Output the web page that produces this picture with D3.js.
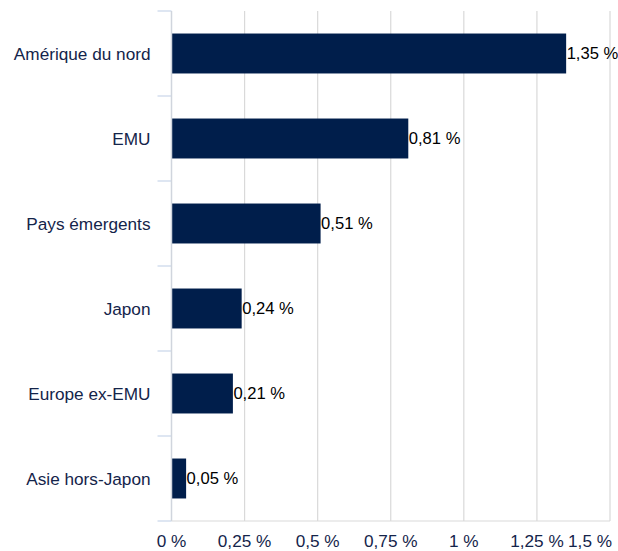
<!DOCTYPE html>
<html>
<head>
<meta charset="utf-8">
<script src="https://cdn.jsdelivr.net/npm/d3@7"></script>
<style>
  html, body { margin: 0; padding: 0; background: #fff; }
  svg { display: block; font-family: "Liberation Sans", Arial, sans-serif; }
</style>
</head>
<body>
<svg id="chart" width="618" height="551"></svg>
<script>
// Contribution by region (percent)
const categories = ["Amérique du nord", "EMU", "Pays émergents", "Japon", "Europe ex-EMU", "Asie hors-Japon"];
const values = [1.35, 0.81, 0.51, 0.24, 0.21, 0.05];
const xTicks = [0, 0.25, 0.5, 0.75, 1, 1.25, 1.5];

const fmt = v => String(v).replace(".", ",") + " %";

const margin = { top: 11, left: 171.5 };
const innerW = 610 - margin.left;
const innerH = 521 - margin.top;
const fontSize = 17.2;
const valueFontSize = 16.6;

const svg = d3.select("#chart");
const g = svg.append("g").attr("transform", `translate(${margin.left},${margin.top})`);

const x = d3.scaleLinear().domain([0, 1.5]).range([0, innerW]);
const y = d3.scaleBand().domain(categories).range([0, innerH]).paddingInner(0.53).paddingOuter(0.265);
const band = d3.scaleBand().domain(categories).range([0, innerH]);

// vertical gridlines
g.selectAll("line.grid").data(xTicks.slice(1)).join("line")
  .attr("class", "grid")
  .attr("x1", d => x(d)).attr("x2", d => x(d))
  .attr("y1", 0).attr("y2", innerH)
  .attr("stroke", "#d9d9d9").attr("stroke-width", 1.2);

// bottom axis line
g.append("line")
  .attr("x1", 0).attr("x2", innerW)
  .attr("y1", innerH).attr("y2", innerH)
  .attr("stroke", "#d9d9d9").attr("stroke-width", 1.2);

// category separators on the left
const seps = categories.map(c => band(c)).concat([innerH]);
g.selectAll("line.sep").data(seps).join("line")
  .attr("class", "sep")
  .attr("x1", -14).attr("x2", 0)
  .attr("y1", d => d).attr("y2", d => d)
  .attr("stroke", "#c9d5ea").attr("stroke-width", 1.2);

// bars
g.selectAll("rect.bar").data(values).join("rect")
  .attr("class", "bar")
  .attr("x", x(0))
  .attr("y", (d, i) => y(categories[i]))
  .attr("width", d => x(d) - x(0))
  .attr("height", y.bandwidth())
  .attr("fill", "#001e4b");

// value axis line at zero
g.append("line")
  .attr("x1", 0).attr("x2", 0)
  .attr("y1", 0).attr("y2", innerH)
  .attr("stroke", "#d0d5dd").attr("stroke-width", 1.5);

// data labels
g.selectAll("text.val").data(values).join("text")
  .attr("class", "val")
  .attr("x", d => x(d) + 0.5)
  .attr("y", (d, i) => y(categories[i]) + y.bandwidth() / 2)
  .attr("dy", "0.35em")
  .attr("font-size", valueFontSize)
  .attr("fill", "#000")
  .text(d => fmt(d));

// category labels
g.selectAll("text.cat").data(categories).join("text")
  .attr("class", "cat")
  .attr("x", -21)
  .attr("y", d => y(d) + y.bandwidth() / 2)
  .attr("dy", "0.35em")
  .attr("text-anchor", "end")
  .attr("font-size", fontSize)
  .attr("fill", "#14244a")
  .text(d => d);

// x tick labels (last one kept inside the frame)
const last = xTicks.length - 1;
g.selectAll("text.tick").data(xTicks).join("text")
  .attr("class", "tick")
  .attr("x", (d, i) => i === last ? x(d) + 2 : x(d))
  .attr("y", innerH + 25.5)
  .attr("text-anchor", (d, i) => i === last ? "end" : "middle")
  .attr("font-size", fontSize)
  .attr("fill", "#14244a")
  .text(d => fmt(d));
</script>
</body>
</html>
